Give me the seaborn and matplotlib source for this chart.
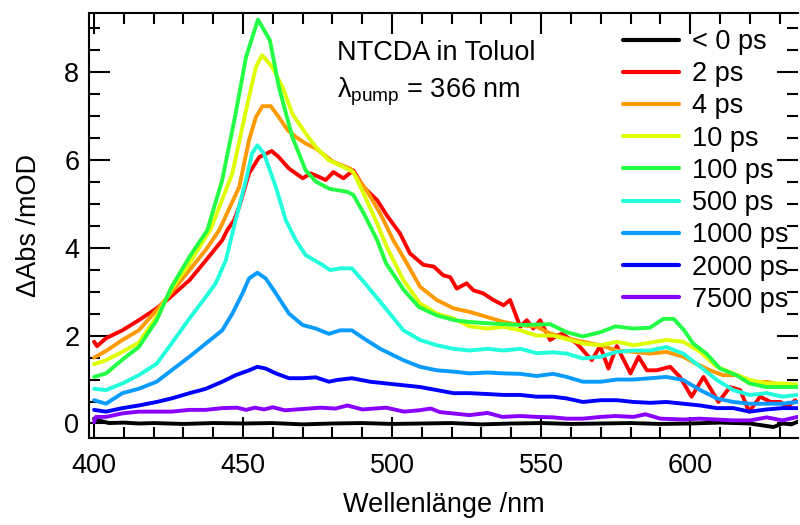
"""
Transient absorption spectra of NTCDA in toluene
"""
import numpy as np
import pandas as pd
import matplotlib
matplotlib.use("Agg")
import matplotlib.pyplot as plt
from matplotlib.ticker import MultipleLocator
import seaborn as sns

# delay labels and line colours
delays = ["< 0 ps", "2 ps", "4 ps", "10 ps", "100 ps", "500 ps", "1000 ps", "2000 ps", "7500 ps"]
colors = ["#000000", "#ff0000", "#ff9900", "#ddff00", "#22ff44", "#22ffdd", "#0a9bff", "#0000ff", "#8a00ff"]

# spectra (wavelength /nm, dAbs /mOD)
wl_neg = [400, 401, 405, 410, 415, 420, 430, 440, 450, 460, 470, 480, 490, 500, 510, 520, 530, 540,
          550, 560, 570, 580, 590, 600, 610, 620, 624, 628, 631, 634, 636]
abs_neg = [0.11, 0.08, 0.01, 0.02, 0.0, 0.01, -0.01, 0.01, 0.0, 0.01, -0.02, 0.0, 0.01, -0.01, 0.0, 0.01,
           -0.02, 0.0, 0.01, -0.01, 0.0, 0.01, -0.01, 0.0, 0.02, 0.0, -0.04, -0.08, 0.0, -0.02, 0.04]

wl_2ps = [400, 401, 404, 409.5, 415, 421, 425, 432, 437.5, 443, 444.7, 447, 448.7, 452, 455.4, 459.6,
          462, 465.4, 470, 472.7, 475.5, 477.7, 480.3, 483.7, 487, 490.4, 495, 498.2, 502.7, 506, 510.5,
          514, 517.2, 519.5, 521.7, 525, 527.3, 530.6, 534, 537.4, 539.6, 543, 545.2, 547.4, 549.7, 553,
          555.4, 557, 562, 567, 569.8, 572.6, 575.4, 580, 582.7, 585.5, 588.8, 593.3, 596.6, 600.5,
          604.5, 609.5, 613.4, 616.8, 619.8, 623.5, 627, 630.3, 632.5, 635.3]
abs_2ps = [1.86, 1.76, 1.94, 2.12, 2.35, 2.62, 2.84, 3.26, 3.71, 4.17, 4.40, 4.63, 4.93, 5.69, 6.06, 6.20,
           6.06, 5.80, 5.58, 5.69, 5.61, 5.54, 5.72, 5.58, 5.76, 5.38, 5.08, 4.74, 4.32, 3.87, 3.61,
           3.57, 3.37, 3.33, 3.07, 3.19, 3.03, 2.96, 2.81, 2.69, 2.81, 2.20, 2.35, 2.16, 2.35, 1.90,
           2.00, 2.04, 1.82, 1.44, 1.76, 1.25, 1.76, 1.14, 1.52, 1.21, 1.21, 1.29, 1.06, 0.61,
           1.06, 0.49, 0.83, 0.76, 0.27, 0.61, 0.49, 0.49, 0.37, 0.53]

wl_4ps = [400, 404, 409.5, 415, 421, 426, 432, 437.5, 442, 448.7, 452, 454.3, 456.5, 459.3, 462, 465,
          467.7, 471, 474.4, 478.8, 480.3, 486, 491.5, 496, 500.4, 505, 509.4, 515, 520.6, 526, 532,
          537.4, 543, 548.5, 553, 558.6, 564, 570, 575.4, 581, 586.6, 592, 597.7, 602, 606.7, 611,
          615.7, 620, 625.7, 631, 636]
abs_4ps = [1.50, 1.65, 1.90, 2.12, 2.58, 2.99, 3.49, 3.95, 4.40, 5.38, 6.45, 6.97, 7.22, 7.22, 6.97, 6.67,
           6.52, 6.37, 6.26, 6.03, 5.95, 5.80, 5.30, 4.78, 4.17, 3.64, 3.11, 2.81, 2.62, 2.54, 2.42,
           2.31, 2.24, 2.20, 2.05, 1.94, 1.86, 1.78, 1.66, 1.63, 1.59, 1.63, 1.52, 1.36, 1.21, 1.10,
           1.10, 0.91, 0.95, 0.87, 0.87]

wl_10ps = [400, 404, 409.5, 415, 421, 426, 432, 437.5, 439, 446.4, 451, 454.3, 456.4, 459.8, 463.2,
           466.5, 471, 474.4, 478.8, 484.8, 487, 490.4, 495, 498.2, 503.8, 509.4, 515, 520.6, 526,
           532, 537.4, 543, 548.5, 554, 564, 570, 575.4, 581, 586.6, 592, 597.7, 603.4, 609, 614.5,
           620, 625.7, 631, 636]
abs_10ps = [1.35, 1.44, 1.63, 1.84, 2.43, 3.07, 3.64, 4.25, 4.40, 5.69, 7.13, 8.11, 8.38, 8.11, 7.66,
            7.05, 6.60, 6.29, 5.99, 5.80, 5.72, 5.24, 4.55, 4.02, 3.26, 2.73, 2.50, 2.39, 2.21,
            2.16, 2.20, 2.12, 2.00, 2.00, 1.82, 1.78, 1.86, 1.78, 1.84, 1.90, 1.86, 1.63, 1.29, 1.14,
            0.99, 0.91, 0.91, 0.89]

wl_100ps = [400, 404, 410, 415, 421, 426, 432, 438, 443, 447.5, 451, 455, 459, 462, 466.5, 471, 474.5,
            479, 485, 487, 490.5, 495, 498, 504, 509, 515, 521, 526, 532, 543, 553, 558.5, 564, 570,
            575, 581, 586.5, 591, 594.5, 598, 601, 605.5, 610, 615.5, 620, 625.5, 631, 636]
abs_100ps = [1.06, 1.14, 1.48, 1.74, 2.35, 3.11, 3.79, 4.40, 5.54, 7.05, 8.34, 9.19, 8.72, 7.66, 6.52,
             5.76, 5.50, 5.34, 5.27, 5.20, 4.78, 4.17, 3.64, 3.03, 2.65, 2.46, 2.35, 2.31, 2.28, 2.24,
             2.26, 2.08, 1.98, 2.08, 2.21, 2.16, 2.18, 2.38, 2.38, 2.12, 1.82, 1.59, 1.25, 1.10, 0.91,
             0.83, 0.83, 0.83]

wl_500ps = [400, 404, 409.5, 415, 421, 426, 432, 437.5, 440.8, 444.2, 447.5, 451, 453, 454.8, 457, 461,
            464.3, 467.7, 471, 476.6, 479.2, 482.6, 486.5, 490.4, 496, 503.8, 509.4, 515, 520.6, 526,
            532, 537.4, 543, 548.5, 554, 558.6, 564, 570, 575.4, 581, 586.6, 592, 597.7, 603.4, 609,
            614.5, 620, 625.7, 631, 636]
abs_500ps = [0.79, 0.76, 0.91, 1.10, 1.36, 1.82, 2.39, 2.88, 3.19, 3.71, 4.63, 5.54, 6.14, 6.33, 6.14,
             5.38, 4.63, 4.17, 3.83, 3.61, 3.49, 3.53, 3.53, 3.23, 2.77, 2.12, 1.90, 1.78, 1.70, 1.66,
             1.70, 1.66, 1.70, 1.60, 1.62, 1.59, 1.48, 1.52, 1.63, 1.66, 1.66, 1.74, 1.59, 1.29, 0.99,
             0.76, 0.65, 0.69, 0.61, 0.65]

wl_1000ps = [400, 404, 409.5, 415, 421, 426, 432, 437.5, 443, 446.4, 449.8, 452, 454.8, 457.6, 461, 465.4,
             470, 474.4, 478.8, 482.6, 486.5, 490.4, 496, 503.8, 509.4, 515, 520.6, 526, 532, 537.4,
             543, 548.5, 554, 558.6, 564, 570, 575.4, 581, 586.6, 592, 597.7, 603.4, 609, 614.5, 620,
             625.7, 631, 636]
abs_1000ps = [0.53, 0.45, 0.69, 0.79, 0.95, 1.21, 1.52, 1.82, 2.12, 2.50, 2.96, 3.30, 3.43, 3.30, 2.96,
              2.50, 2.24, 2.16, 2.04, 2.12, 2.12, 1.94, 1.70, 1.44, 1.29, 1.21, 1.18, 1.14, 1.16, 1.14,
              1.13, 1.08, 1.13, 1.06, 0.95, 0.95, 1.00, 1.00, 1.03, 1.06, 0.99, 0.76, 0.57, 0.49, 0.45,
              0.45, 0.45, 0.49]

wl_2000ps = [400, 404, 409.5, 415, 421, 426, 432, 437.5, 443, 447.5, 452, 454.8, 457.6, 461, 465.4, 470,
             474.4, 478.8, 481.5, 486.5, 492.7, 498.2, 503.8, 509.4, 515, 520.6, 526, 532, 537.4, 543,
             548.5, 554, 558.6, 564, 570, 575.4, 581, 586.6, 592, 597.7, 603.4, 609, 614.5, 620, 625.7,
             631, 636]
abs_2000ps = [0.31, 0.27, 0.35, 0.41, 0.49, 0.57, 0.69, 0.79, 0.95, 1.10, 1.21, 1.29, 1.25, 1.14, 1.03,
              1.03, 1.05, 0.95, 0.99, 1.03, 0.95, 0.91, 0.87, 0.83, 0.76, 0.69, 0.69, 0.67, 0.65, 0.65,
              0.61, 0.61, 0.57, 0.49, 0.53, 0.53, 0.49, 0.47, 0.49, 0.45, 0.41, 0.35, 0.35, 0.27, 0.32,
              0.35, 0.35]

wl_7500ps = [400, 400.6, 404, 409.5, 415, 421, 426, 432, 437.5, 443, 448, 451, 454, 457, 460, 464, 470,
             476, 481, 485, 490, 498, 504, 509, 513, 516, 526, 532, 537, 543, 548.5, 554, 558.6, 564,
             570, 575, 581, 585, 590, 598, 603, 609, 614.5, 620, 625.7, 631, 636]
abs_7500ps = [0.03, 0.15, 0.15, 0.23, 0.27, 0.27, 0.27, 0.31, 0.31, 0.35, 0.36, 0.31, 0.36, 0.32, 0.37,
              0.30, 0.33, 0.36, 0.34, 0.41, 0.32, 0.36, 0.27, 0.30, 0.34, 0.26, 0.19, 0.24, 0.15, 0.17,
              0.15, 0.14, 0.11, 0.11, 0.15, 0.17, 0.15, 0.21, 0.11, 0.09, 0.11, 0.09, 0.07, 0.07, 0.14,
              0.07, 0.15]

series = [(wl_neg, abs_neg), (wl_2ps, abs_2ps), (wl_4ps, abs_4ps), (wl_10ps, abs_10ps),
          (wl_100ps, abs_100ps), (wl_500ps, abs_500ps), (wl_1000ps, abs_1000ps),
          (wl_2000ps, abs_2000ps), (wl_7500ps, abs_7500ps)]

frames = []
for label, (wl, val) in zip(delays, series):
    frames.append(pd.DataFrame({"wl": wl, "dabs": val, "delay": label}))
df = pd.concat(frames, ignore_index=True)

sns.set_style("ticks")
plt.rcParams["font.family"] = ["Liberation Sans", "DejaVu Sans"]
plt.rcParams["mathtext.default"] = "regular"
plt.rcParams["text.color"] = "black"
plt.rcParams["axes.labelcolor"] = "black"
plt.rcParams["xtick.color"] = "black"
plt.rcParams["ytick.color"] = "black"

FS = 19.5

fig = plt.figure(figsize=(8, 5.25), dpi=100)
ax = fig.add_axes([89 / 800, 87 / 525, 709 / 800, 425 / 525])

sns.lineplot(data=df, x="wl", y="dabs", hue="delay", hue_order=delays,
             palette=dict(zip(delays, colors)), estimator=None, sort=False,
             linewidth=2.8, ax=ax)

ax.set_xlim(398.3, 636.2)
ax.set_ylim(-0.33, 9.34)
ax.xaxis.set_major_locator(MultipleLocator(50))
ax.xaxis.set_minor_locator(MultipleLocator(10))
ax.yaxis.set_major_locator(MultipleLocator(2))
ax.yaxis.set_minor_locator(MultipleLocator(0.5))

ax.tick_params(which="both", direction="in", top=True, right=True, width=1.5,
               color="black", labelcolor="black", labelsize=FS)
ax.tick_params(which="major", length=15)
ax.tick_params(which="minor", length=8)
ax.tick_params(axis="x", which="major", pad=11)
ax.tick_params(axis="y", which="major", pad=7)

for side in ["left", "bottom", "top"]:
    ax.spines[side].set_linewidth(1.5)
    ax.spines[side].set_color("black")
ax.spines["right"].set_visible(False)

ax.set_xlabel("Wellenlänge /nm", fontsize=FS, labelpad=9, color="black")
ax.set_ylabel("ΔAbs /mOD", fontsize=FS, labelpad=16, color="black")

fig.text(337 / 800, 1 - 60 / 525, "NTCDA in Toluol", fontsize=FS, va="baseline", ha="left",
         color="black")
fig.text(337 / 800, 1 - 97 / 525, r"$\lambda_{pump}$ = 366 nm", fontsize=FS, va="baseline",
         ha="left", color="black")

sns.move_legend(ax, loc="upper left", bbox_to_anchor=(623 / 800, 1 - 29 / 525),
                bbox_transform=fig.transFigure, title=None, frameon=False, fontsize=FS,
                handlelength=2.05, handletextpad=0.5, labelspacing=0.23,
                borderpad=0, borderaxespad=0)
for text in ax.get_legend().get_texts():
    text.set_color("black")
for line in ax.get_legend().get_lines():
    line.set_linewidth(3)

fig.savefig("out.png", dpi=100)
